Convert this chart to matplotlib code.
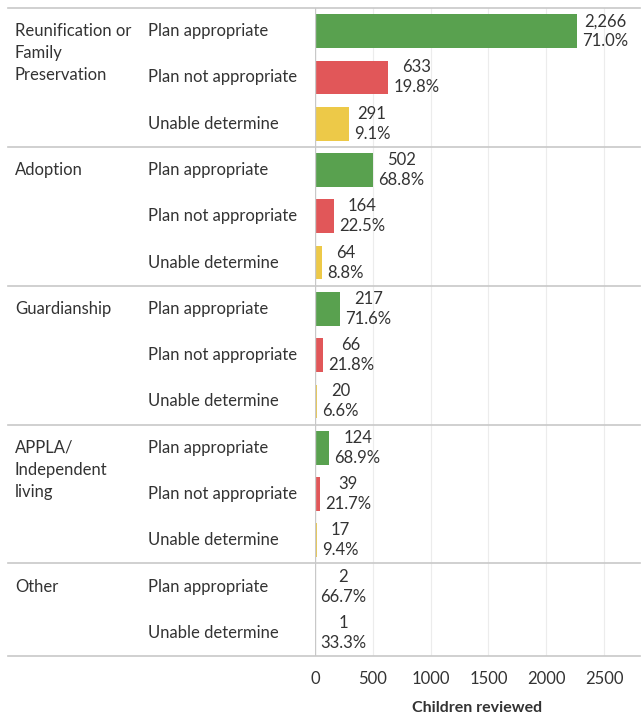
import matplotlib.pyplot as plt
from matplotlib.transforms import blended_transform_factory

groups = ["Reunification or\nFamily\nPreservation", "Adoption", "Guardianship",
          "APPLA/\nIndependent\nliving", "Other"]
subcats = [
    ["Plan appropriate", "Plan not appropriate", "Unable determine"],
    ["Plan appropriate", "Plan not appropriate", "Unable determine"],
    ["Plan appropriate", "Plan not appropriate", "Unable determine"],
    ["Plan appropriate", "Plan not appropriate", "Unable determine"],
    ["Plan appropriate", "Unable determine"],
]
values = [
    [2266, 633, 291],
    [502, 164, 64],
    [217, 66, 20],
    [124, 39, 17],
    [2, 1],
]
percents = [
    ["71.0%", "19.8%", "9.1%"],
    ["68.8%", "22.5%", "8.8%"],
    ["71.6%", "21.8%", "6.6%"],
    ["68.9%", "21.7%", "9.4%"],
    ["66.7%", "33.3%"],
]
xticks = [0, 500, 1000, 1500, 2000, 2500]
xlabel = "Children reviewed"

colors = {"Plan appropriate": "#59A14F", "Plan not appropriate": "#E15759",
          "Unable determine": "#EDC948"}

plt.rcParams['font.family'] = ['Lato', 'DejaVu Sans']
FS = 12
TXT = "#333333"
W, H = 642, 717
fig = plt.figure(figsize=(W / 100, H / 100), dpi=100)
ax = fig.add_axes([315 / W, 1 - 656 / H, 325 / W, 648 / H])

nrows = sum(len(s) for s in subcats)
ax.set_ylim(nrows - 0.5, -0.5)
ax.set_xlim(0, 2811)

tx = blended_transform_factory(fig.transFigure, ax.transData)
row = 0
seps = [-0.5]
for g, subs, vals, pcts in zip(groups, subcats, values, percents):
    for i, line in enumerate(g.split("\n")):
        ax.text(15 / W, row + i * 0.475, line, transform=tx, fontsize=FS,
                color=TXT, va="center", ha="left")
    for s, v, p in zip(subs, vals, pcts):
        ax.barh(row, v, height=0.73, color=colors[s], zorder=3)
        ax.text(148 / W, row, s, transform=tx, fontsize=FS,
                color=TXT, va="center", ha="left")
        ax.text(v + 45, row, f"{v:,}\n{p}", fontsize=FS, color=TXT,
                va="center", ha="left", multialignment="center",
                linespacing=1.3, zorder=4)
        row += 1
    seps.append(row - 0.5)

for y in seps:
    ax.plot([8 / W, 640 / W], [y, y], transform=tx, color="#c8c8c8",
            lw=1.2, clip_on=False, zorder=2)

for x in xticks[1:]:
    ax.axvline(x, color="#ececec", lw=0.8, zorder=1)
ax.axvline(0, color="#c8c8c8", lw=1.0, zorder=5)

for sp in ax.spines.values():
    sp.set_visible(False)
ax.set_yticks([])
ax.set_xticks(xticks)
ax.set_xticklabels([str(t) for t in xticks], fontsize=FS, color=TXT)
ax.tick_params(axis="x", length=0, pad=11)
ax.set_xlabel(xlabel, fontsize=11.5, fontweight="bold", color=TXT, labelpad=10)

fig.savefig("out.png", dpi=100, facecolor="white")
